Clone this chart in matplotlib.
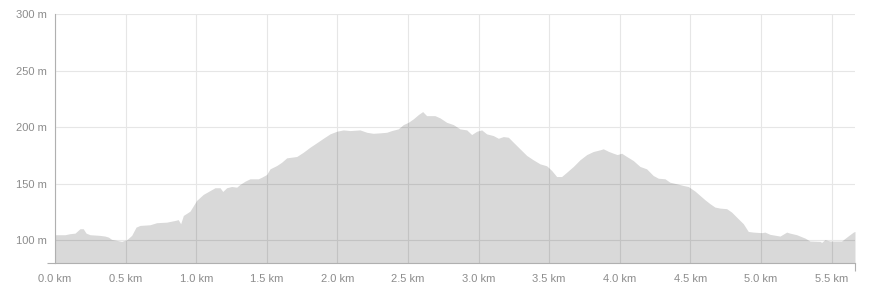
import matplotlib
matplotlib.use("Agg")
import matplotlib.pyplot as plt

# elevation profile (distance in km, elevation in m)
dist_km = [
    0.0, 0.071, 0.106, 0.142, 0.177, 0.200, 0.220, 0.248, 0.319, 0.354,
    0.378, 0.401, 0.437, 0.472, 0.508, 0.543, 0.574, 0.602, 0.673, 0.720,
    0.791, 0.850, 0.873, 0.890, 0.909, 0.956, 1.003, 1.050, 1.098, 1.133,
    1.169, 1.188, 1.216, 1.251, 1.287, 1.310, 1.346, 1.381, 1.440, 1.464,
    1.499, 1.523, 1.570, 1.605, 1.641, 1.712, 1.759, 1.806, 1.853, 1.900,
    1.948, 1.995, 2.042, 2.089, 2.160, 2.208, 2.254, 2.302, 2.349, 2.384,
    2.431, 2.467, 2.502, 2.537, 2.573, 2.604, 2.632, 2.691, 2.727, 2.774,
    2.821, 2.868, 2.916, 2.951, 2.987, 3.022, 3.057, 3.104, 3.140, 3.175,
    3.211, 3.246, 3.293, 3.341, 3.387, 3.435, 3.482, 3.518, 3.553, 3.588,
    3.624, 3.671, 3.718, 3.766, 3.812, 3.860, 3.883, 3.919, 3.954, 3.982,
    4.013, 4.049, 4.096, 4.143, 4.190, 4.237, 4.273, 4.320, 4.355, 4.403,
    4.450, 4.485, 4.533, 4.568, 4.603, 4.639, 4.674, 4.710, 4.757, 4.792,
    4.828, 4.875, 4.910, 4.946, 5.005, 5.028, 5.064, 5.135, 5.182, 5.205,
    5.253, 5.312, 5.347, 5.418, 5.430, 5.453, 5.489, 5.571, 5.607, 5.654,
    5.666,
]
elev_m = [
    105.0, 105.0, 105.9, 106.4, 110.3, 110.3, 106.4, 105.0, 104.4, 103.8,
    102.9, 100.9, 100.0, 99.1, 100.6, 104.4, 111.7, 113.2, 113.8, 115.6,
    116.1, 117.6, 118.3, 114.7, 122.0, 125.8, 135.3, 140.6, 144.0, 146.5,
    146.5, 143.2, 146.5, 147.6, 147.0, 149.4, 152.3, 154.4, 154.4, 155.8,
    158.2, 163.2, 166.1, 169.0, 172.9, 174.1, 177.9, 182.3, 186.2, 190.2,
    194.1, 196.4, 197.6, 197.0, 197.6, 195.5, 194.6, 195.0, 195.5, 197.0,
    198.5, 202.3, 204.3, 207.3, 211.1, 213.8, 210.2, 210.2, 208.2, 204.3,
    202.3, 198.5, 197.6, 193.5, 196.4, 197.6, 194.1, 192.6, 190.2, 191.7,
    191.1, 186.7, 180.9, 175.0, 171.2, 167.6, 165.9, 161.7, 156.4, 156.4,
    160.2, 165.3, 171.2, 175.8, 178.5, 180.0, 180.9, 178.7, 177.0, 175.8,
    177.0, 174.1, 170.5, 165.3, 163.2, 157.3, 154.9, 154.4, 151.4, 150.0,
    148.5, 147.6, 143.5, 139.7, 135.9, 132.4, 129.4, 128.5, 128.0, 125.0,
    120.5, 114.7, 107.9, 107.3, 106.8, 107.3, 105.3, 103.8, 107.3, 106.4,
    105.0, 102.0, 99.4, 99.1, 98.2, 100.6, 99.4, 99.4, 102.9, 107.3,
    107.9,
]

x_ticks = [0.0, 0.5, 1.0, 1.5, 2.0, 2.5, 3.0, 3.5, 4.0, 4.5, 5.0, 5.5]
y_ticks = [100, 150, 200, 250, 300]
y_min, y_max = 80, 300

W, H = 884, 297
fig = plt.figure(figsize=(W / 100, H / 100), dpi=100)
ax = fig.add_axes([55 / W, (H - 263) / H, (855 - 55) / W, (263 - 14) / H])

label_col = "#8c8c8c"
axis_col = "#b0b0b0"

ax.fill_between(dist_km, elev_m, y_min, color="black", alpha=0.15,
                linewidth=0, zorder=3)

ax.set_xlim(0, dist_km[-1])
ax.set_ylim(y_min, y_max)

ax.set_xticks(x_ticks)
ax.set_xticklabels([f"{v:.1f} km" for v in x_ticks])
ax.set_yticks(y_ticks)
ax.set_yticklabels([f"{v} m" for v in y_ticks])

# ticks only at the axis ends
ax.set_xticks([0, dist_km[-1]], minor=True)
ax.set_yticks([y_min, y_max], minor=True)
ax.tick_params(which="major", length=0, labelsize=8, labelcolor=label_col)
ax.tick_params(axis="x", which="major", pad=8)
ax.tick_params(axis="y", which="major", pad=6)
ax.tick_params(which="minor", length=6, width=0.8, color=axis_col)

ax.grid(True, which="major", color="#e6e6e6", linewidth=0.8, zorder=0)
ax.set_axisbelow(True)

for side in ["top", "right"]:
    ax.spines[side].set_visible(False)
for side in ["left", "bottom"]:
    ax.spines[side].set_color(axis_col)
    ax.spines[side].set_linewidth(0.8)
    ax.spines[side].set_zorder(4)

for lab in ax.get_xticklabels() + ax.get_yticklabels():
    lab.set_family(["Liberation Sans", "DejaVu Sans"])

fig.savefig("out.png", dpi=100)
